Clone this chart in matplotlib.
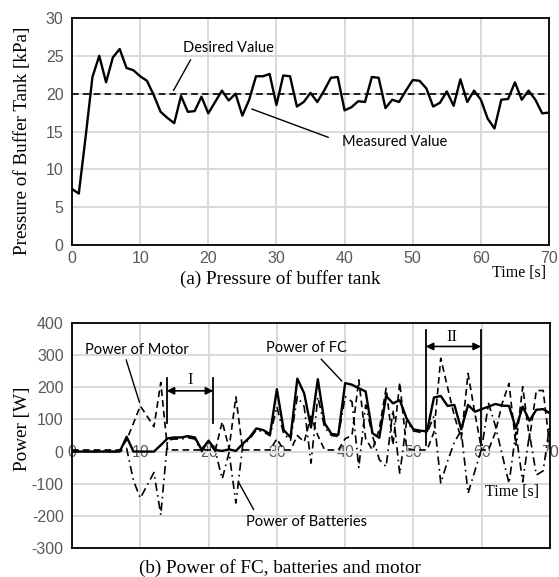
import matplotlib
matplotlib.use("Agg")
import matplotlib.pyplot as plt

plt.rcParams["axes.unicode_minus"] = False

# ---------------- data ----------------
time_s = list(range(0, 71))

pressure_kpa = [7.4, 6.8, 14.3, 22.2, 25.0, 21.5, 24.8, 25.9, 23.4, 23.1,
                22.3, 21.7, 19.8, 17.6, 16.8, 16.1, 19.7, 17.6, 17.7, 19.6,
                17.4, 18.9, 20.4, 19.1, 20.0, 17.1, 19.2, 22.3, 22.3, 22.6,
                18.5, 22.4, 22.3, 18.3, 18.9, 20.1, 18.9, 20.4, 22.1, 22.2,
                17.8, 18.2, 19.0, 18.9, 22.2, 22.1, 18.1, 19.2, 18.9, 20.4,
                21.8, 21.7, 20.7, 18.3, 18.8, 20.3, 18.4, 21.9, 18.9, 20.4,
                19.2, 16.7, 15.4, 19.2, 19.3, 21.5, 19.2, 20.4, 19.2, 17.4, 17.5]
desired_kpa = 20

power_fc = [0, 0, 0, 0, 0, 0, 0, 0, 46, 0,
            0, 0, 0, 20, 41, 44, 44, 48, 44, 5,
            34, 5, 2, 7, 2, 24, 44, 72, 67, 54,
            194, 67, 44, 227, 181, 75, 225, 88, 55, 52,
            213, 208, 197, 187, 57, 43, 173, 150, 160, 103,
            69, 65, 63, 168, 173, 142, 145, 69, 145, 124,
            132, 140, 148, 143, 142, 72, 140, 96, 130, 132, 119]

power_motor = [5, 5, 5, 5, 5, 5, 5, 5, 36, 88,
               142, 110, 77, 215, 5, 5, 5, 5, 5, 5,
               5, 5, 93, 10, 170, 5, 5, 5, 5, 5,
               40, 5, 5, 50, 30, 110, 50, 5, 5, 5,
               40, 50, 223, 40, 5, 70, 197, 20, 215, 10,
               5, 5, 5, 60, 290, 200, 110, 40, 243, 119,
               5, 5, 60, 150, 212, 20, 202, 40, 190, 190, 10]

power_batt = [0, 0, 0, 0, 0, 0, 0, 0, 10, -90,
              -145, -105, -65, -197, 36, 39, 39, 43, 39, 0,
              29, 0, -85, -3, -160, 19, 39, 67, 62, 49,
              140, 55, 35, 171, 140, -36, 170, 75, 50, 47,
              171, 155, -50, 145, 50, -25, -47, 130, -70, 95,
              64, 60, 58, 110, -98, -30, 30, 65, -130, -60,
              10, 150, 80, -10, -99, 60, -94, 55, -73, -60, 88]

xticks = [0, 10, 20, 30, 40, 50, 60, 70]
yticks_a = [0, 5, 10, 15, 20, 25, 30]
yticks_b = [-300, -200, -100, 0, 100, 200, 300, 400]

# ---------------- style ----------------
W, H = 559, 577
fig = plt.figure(figsize=(W / 100, H / 100), dpi=100)
TICK_FAMILY = "Liberation Sans"
TICK_SIZE = 11.5
TICK_COLOR = "#595959"
ANN = dict(family="Lato", size=10.5, color="black")
SERIF = "Liberation Serif"
GRID = "#d9d9d9"


def fx(px):
    return px / W


def fy(py):
    return 1 - py / H


def style_axes(ax):
    for s in ax.spines.values():
        s.set_linewidth(1.3)
        s.set_color("black")
    ax.grid(True, color=GRID, linewidth=1.4)
    ax.set_axisbelow(True)
    ax.tick_params(length=0, labelcolor=TICK_COLOR, labelsize=TICK_SIZE)
    for lab in ax.get_yticklabels() + ax.get_xticklabels():
        lab.set_fontfamily(TICK_FAMILY)


# ---------------- (a) ----------------
ax1 = fig.add_axes([fx(72), fy(245), fx(549) - fx(72), fy(18) - fy(245)])
ax1.plot(time_s, [desired_kpa] * len(time_s), color="black", lw=1.2,
         dashes=(4, 2.5), zorder=3)
ax1.plot(time_s, pressure_kpa, color="black", lw=1.7, zorder=4)
ax1.set_xlim(0, 70)
ax1.set_ylim(0, 30)
ax1.set_xticks(xticks)
ax1.set_yticks(yticks_a)
ax1.tick_params(axis="x", pad=4)
ax1.tick_params(axis="y", pad=6)
style_axes(ax1)
ax1.set_ylabel("Pressure of Buffer Tank [kPa]", family=SERIF, size=13.8)
ax1.yaxis.set_label_coords(-0.086, 0.46)

ax1.annotate("", xy=(14.7, 20.1), xytext=(17.6, 24.8),
             arrowprops=dict(arrowstyle="-", color="black", lw=1.0))
ax1.text(22.9, 26.0, "Desired Value", ha="center", va="center", **ANN)
ax1.annotate("", xy=(26.0, 18.1), xytext=(38.0, 14.1),
             arrowprops=dict(arrowstyle="-", color="black", lw=1.0))
ax1.text(47.4, 13.6, "Measured Value", ha="center", va="center", **ANN)

fig.text(fx(519), fy(273), "Time [s]", family=SERIF, size=11.5, ha="center", va="center")
fig.text(fx(280), fy(279), "(a) Pressure of buffer tank", family=SERIF, size=13.8,
         ha="center", va="center")

# ---------------- (b) ----------------
ax2 = fig.add_axes([fx(72), fy(548), fx(550) - fx(72), fy(323) - fy(548)])
ax2.plot(time_s, power_motor, color="black", lw=1.2, dashes=(4, 2.5), zorder=3)
ax2.plot(time_s, power_batt, color="black", lw=1.2, dashes=(5, 2.5, 1, 2.5), zorder=3)
ax2.plot(time_s, power_fc, color="black", lw=1.7, zorder=4)
ax2.set_xlim(0, 70)
ax2.set_ylim(-300, 400)
ax2.set_xticks(xticks)
ax2.set_xticklabels([])
ax2.set_yticks(yticks_b)
ax2.tick_params(axis="y", pad=6)
style_axes(ax2)
ax2.set_ylabel("Power [W]", family=SERIF, size=13.8)
ax2.yaxis.set_label_coords(-0.086, 0.53)

sec = ax2.secondary_xaxis(300 / 700)
sec.set_xticks(xticks)
sec.set_xticklabels([str(v) for v in xticks], family=TICK_FAMILY, size=TICK_SIZE,
                    color=TICK_COLOR)
sec.tick_params(length=0, pad=1)
for s in sec.spines.values():
    s.set_visible(False)
for lab in sec.get_xticklabels():
    lab.set_va("center")

# region markers
for xv in (13.85, 20.7):
    ax2.plot([xv, xv], [90, 230], color="black", lw=1.3, zorder=5)
ax2.annotate("", xy=(13.85, 189), xytext=(20.7, 189),
             arrowprops=dict(arrowstyle="<|-|>", color="black", lw=1.2,
                             mutation_scale=11, shrinkA=0, shrinkB=0))
ax2.text(17.3, 223, "I", family=SERIF, size=12, ha="center", va="center")

for xv in (51.8, 59.9):
    ax2.plot([xv, xv], [20, 378], color="black", lw=1.3, zorder=5)
ax2.annotate("", xy=(51.8, 327), xytext=(59.9, 327),
             arrowprops=dict(arrowstyle="<|-|>", color="black", lw=1.2,
                             mutation_scale=11, shrinkA=0, shrinkB=0))
ax2.text(55.7, 357, "II", family=SERIF, size=12, ha="center", va="center")

# annotations
ax2.annotate("", xy=(10.0, 145), xytext=(7.8, 294),
             arrowprops=dict(arrowstyle="-", color="black", lw=1.0))
ax2.text(9.5, 316, "Power of Motor", ha="center", va="center", **ANN)
ax2.annotate("", xy=(39.8, 213), xytext=(36.2, 294),
             arrowprops=dict(arrowstyle="-", color="black", lw=1.0))
ax2.text(34.3, 322, "Power of FC", ha="center", va="center", **ANN)
ax2.annotate("", xy=(24.2, -88), xytext=(26.8, -188),
             arrowprops=dict(arrowstyle="-", color="black", lw=1.0))
ax2.text(34.3, -219, "Power of Batteries", ha="center", va="center", **ANN)

ax2.text(64.4, -126, "Time [s]", family=SERIF, size=11.5, ha="center", va="center")
fig.text(fx(280), fy(568), "(b) Power of FC, batteries and motor", family=SERIF,
         size=13.8, ha="center", va="center")

fig.savefig("out.png", dpi=100)
